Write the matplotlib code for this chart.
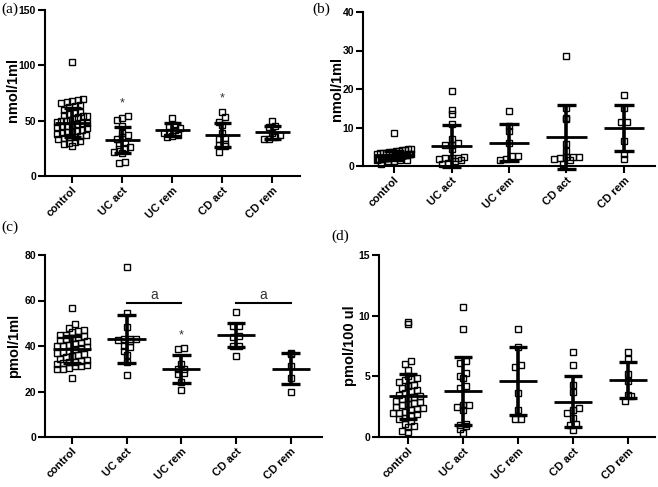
import matplotlib
matplotlib.use("Agg")
import matplotlib.pyplot as plt
import matplotlib.transforms as mtrans
import numpy as np

plt.rcParams["font.family"] = ["Liberation Sans", "DejaVu Sans"]

W, H = 658, 487

groups = ["control", "UC act", "UC rem", "CD act", "CD rem"]

# panel (a)
a_ctrl = [103, 70, 69, 68, 67, 66, 64, 63, 62, 60, 58, 57, 56, 55, 54, 54, 53, 52, 51, 50,
          50, 49, 48, 48, 47, 46, 45, 45, 44, 43, 42, 41, 40, 40, 39, 38, 37, 36, 35, 35,
          34, 33, 32, 31, 30, 29, 27]
a_ucact = [54, 52, 51, 45, 39, 37, 35, 33, 30, 28, 26, 25, 24, 22, 21, 13, 12]
a_ucrem = [52, 46, 44, 43, 42, 40, 39, 37, 36, 35]
a_cdact = [58, 53, 49, 46, 39, 34, 33, 29, 28, 27, 22]
a_cdrem = [50, 45, 44, 39, 37, 35, 33, 33]
a_means = [48, 32.5, 42, 37, 39.5]
a_sds = [13, 12, 6, 11, 6]

# panel (b)
b_ctrl = [8.7, 4.5, 4.3, 4.2, 4.1, 4.0, 3.8, 3.7, 3.6, 3.5, 3.4, 3.3, 3.2, 3.1, 3.0, 3.0,
          2.9, 2.9, 2.8, 2.8, 2.7, 2.7, 2.6, 2.6, 2.5, 2.5, 2.4, 2.4, 2.3, 2.3, 2.2, 2.2,
          2.1, 2.0, 2.0, 1.9, 1.8, 1.8, 1.7, 1.6, 1.5, 1.5, 1.4, 1.3, 0.5]
b_ucact = [19.5, 14.5, 13.5, 11, 7, 6, 5.5, 5.5, 4.5, 2.3, 2.2, 2.0, 2.0, 1.8, 1.5, 1.2, 0.8, 0.5]
b_ucrem = [14.3, 10.5, 9, 6, 2.7, 2.5, 1.8, 1.6]
b_cdact = [28.7, 15, 12.5, 12.2, 5.6, 4, 2.3, 2.3, 2.0, 2.3, 1.7, 1.5, 0.5]
b_cdrem = [18.4, 15, 11.5, 11.4, 6.5, 3.2, 1.7]
b_means = [2.8, 5.2, 6.1, 7.6, 9.8]
b_sds = [1.2, 5.4, 4.8, 8.3, 6.0]

# panel (c)
c_ctrl = [56.6, 49.5, 48, 47, 46.5, 46, 45, 45, 44.5, 44, 43.5, 43, 42.5, 42, 41.5, 41, 40.5,
          40, 40, 39.5, 39, 38.5, 38, 37.5, 37, 36.5, 36, 35.5, 35, 34.5, 34, 33.5, 33, 33,
          32.5, 32, 31.5, 31, 31, 30.5, 30, 30, 26]
c_ucact = [74.6, 54.5, 48.5, 43, 43, 42.5, 43, 42, 40, 39.5, 38, 36, 33, 27.3]
c_ucrem = [39, 38.5, 32, 30, 30, 28, 27.5, 24, 20.5]
c_cdact = [54.8, 49, 49, 44.5, 44, 40, 40, 35.6]
c_cdrem = [37, 36.5, 31, 26, 20]
c_means = [38.6, 43.2, 29.8, 44.7, 30]
c_sds = [6, 10.6, 6.1, 5.2, 6.8]

# panel (d)
d_ctrl = [9.5, 9.3, 6.3, 6.0, 5.5, 5.0, 4.9, 4.8, 4.7, 4.5, 4.3, 4.2, 4.0, 3.9, 3.8, 3.6,
          3.5, 3.4, 3.3, 3.2, 3.1, 3.0, 2.9, 2.8, 2.7, 2.6, 2.5, 2.4, 2.3, 2.2, 2.1, 2.0,
          2.0, 1.9, 1.8, 1.6, 1.5, 1.3, 1.1, 0.9, 0.8, 0.5, 0.4]
d_ucact = [10.7, 8.9, 6.3, 6.1, 5.3, 5.0, 4.9, 4.2, 4.0, 2.6, 2.5, 2.6, 2.2, 1.1, 1.0, 0.9, 0.7, 0.3]
d_ucrem = [8.9, 7.4, 5.9, 5.8, 3.6, 2.2, 1.5, 1.5]
d_cdact = [7.0, 5.9, 4.3, 3.7, 2.4, 2.2, 2.0, 1.6, 1.1, 1.0, 0.6]
d_cdrem = [7.0, 6.4, 5.2, 4.6, 3.5, 3.4, 3.0]
d_means = [3.35, 3.8, 4.6, 2.9, 4.7]
d_sds = [1.85, 2.8, 2.8, 2.1, 1.5]


def swarm(vals, binh, dx=0.11, maxw=0.3):
    vals = np.asarray(vals, float)
    offs = np.zeros(len(vals))
    bins = np.floor(vals / binh).astype(int)
    for b in np.unique(bins):
        idx = np.where(bins == b)[0]
        n = len(idx)
        order = idx[np.argsort(vals[idx])]
        step = dx if n < 2 else min(dx, 2 * maxw / (n - 1))
        offs[order] = (np.arange(n) - (n - 1) / 2) * step
    return offs


def panel(fig, box, data, means, sds, ymax, ystep, xlim):
    left, top, right, bottom = box
    ax = fig.add_axes([left / W, 1 - bottom / H, (right - left) / W, (bottom - top) / H])
    binh = ymax / (bottom - top) * 6
    for i, vals in enumerate(data):
        offs = swarm(vals, binh)
        ax.plot(i + offs, vals, "s", mfc="none", mec="black", ms=4.2, mew=1.0,
                clip_on=False, zorder=2)
        m, s = means[i], sds[i]
        kw = dict(color="black", clip_on=False, zorder=3, solid_capstyle="butt")
        ax.plot([i, i], [m - s, m + s], lw=2.6, **kw)
        ax.plot([i - 0.17, i + 0.17], [m + s, m + s], lw=2.4, **kw)
        ax.plot([i - 0.17, i + 0.17], [m - s, m - s], lw=2.4, **kw)
        ax.plot([i - 0.35, i + 0.35], [m, m], lw=2.0, **kw)
    ax.set_xlim(*xlim)
    ax.set_ylim(0, ymax)
    ticks = np.arange(0, ymax + 0.01, ystep)
    ax.set_yticks(ticks)
    ax.set_yticklabels([f"{v:g}" for v in ticks], fontweight="bold", fontsize=7.5)
    ax.set_xticks(range(len(groups)))
    ax.set_xticklabels(groups, rotation=45, ha="right", va="top", rotation_mode="anchor",
                       fontweight="bold", fontsize=8)
    off = mtrans.ScaledTranslation(6 / 100, 0, fig.dpi_scale_trans)
    for lbl in ax.get_xticklabels():
        lbl.set_transform(lbl.get_transform() + off)
    for sp in ("top", "right"):
        ax.spines[sp].set_visible(False)
    for sp in ("left", "bottom"):
        ax.spines[sp].set_linewidth(1.5)
    ax.tick_params(direction="out", length=5, width=1.5, pad=1.5)
    ax.patch.set_alpha(0)
    return ax


fig = plt.figure(figsize=(W / 100, H / 100), dpi=100)

ax_a = panel(fig, (45, 10, 300, 176), [a_ctrl, a_ucact, a_ucrem, a_cdact, a_cdrem],
             a_means, a_sds, 150, 50, (-0.54, 4.56))
ax_b = panel(fig, (363, 12, 655, 166), [b_ctrl, b_ucact, b_ucrem, b_cdact, b_cdrem],
             b_means, b_sds, 40, 10, (-0.54, 4.54))
ax_c = panel(fig, (45, 255, 322, 437), [c_ctrl, c_ucact, c_ucrem, c_cdact, c_cdrem],
             c_means, c_sds, 80, 20, (-0.49, 4.57))
ax_d = panel(fig, (379, 255, 655, 437), [d_ctrl, d_ucact, d_ucrem, d_cdact, d_cdrem],
             d_means, d_sds, 15, 5, (-0.53, 4.49))

# significance marks
ax_a.text(1, 66, "*", ha="center", va="center", fontsize=9, color="#333333")
ax_a.text(3, 70, "*", ha="center", va="center", fontsize=9, color="#333333")
ax_c.text(2, 44.5, "*", ha="center", va="center", fontsize=9, color="#333333")
for x0, x1 in [(1, 2), (3, 4)]:
    ax_c.plot([x0, x1], [58.8, 58.8], color="black", lw=1.5)
    ax_c.text((x0 + x1) / 2, 62.5, "a", ha="center", va="center", fontsize=10, color="#333333")

# axis titles
fig.text(13 / W, 1 - 90 / H, "nmol/1ml", rotation=90, ha="center", va="center",
         fontsize=10.5, fontweight="bold")
fig.text(337 / W, 1 - 89 / H, "nmol/1ml", rotation=90, ha="center", va="center",
         fontsize=10.5, fontweight="bold")
fig.text(14 / W, 1 - 346 / H, "pmol/1ml", rotation=90, ha="center", va="center",
         fontsize=10.5, fontweight="bold")
fig.text(350 / W, 1 - 346 / H, "pmol/100 ul", rotation=90, ha="center", va="center",
         fontsize=10.5, fontweight="bold")

# panel letters
for x, y, s in [(1, 9, "(a)"), (312, 9, "(b)"), (1, 227, "(c)"), (331, 236, "(d)")]:
    fig.text(x / W, 1 - y / H, s, ha="left", va="center", fontsize=11,
             family=["Liberation Serif", "DejaVu Serif"])

fig.savefig("out.png", dpi=100)
